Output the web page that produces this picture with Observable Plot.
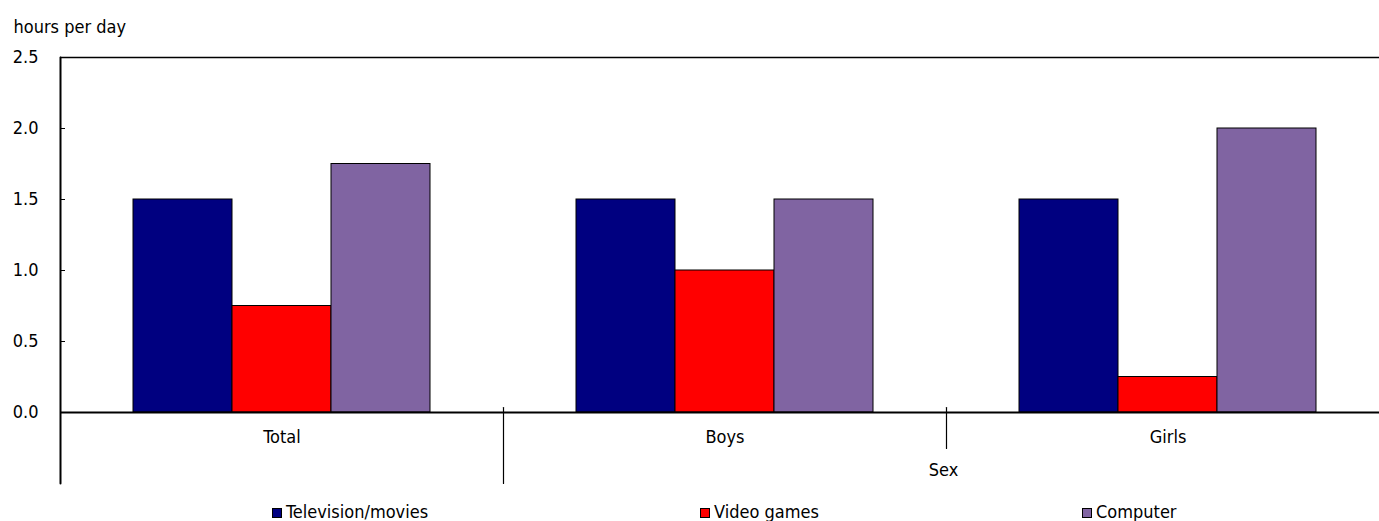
<!DOCTYPE html>
<html>
<head>
<meta charset="utf-8">
<script src="https://cdn.jsdelivr.net/npm/d3@7"></script>
<script src="https://cdn.jsdelivr.net/npm/@observablehq/plot@0.6"></script>
<style>
  html, body { margin: 0; padding: 0; background: #fff; overflow: hidden; }
  #chart {
    position: relative; width: 1379px; height: 521px; overflow: hidden;
    font-family: "Liberation Sans Narrow", "Arial Narrow", "DejaVu Sans Condensed", sans-serif;
    font-size: 18px; color: #000;
  }
  #chart svg { position: absolute; left: 0; top: 0; max-width: none; }
  .legend-item { position: absolute; top: 501px; line-height: 21px; white-space: nowrap; }
  .legend-item .swatch {
    display: inline-block; width: 8px; height: 8px; border: 1px solid #000;
    margin-right: 4px; vertical-align: 0px;
  }
</style>
</head>
<body>
<div id="chart"></div>
<script>
// Time spent on screen activities, by sex
const groups = ["Total", "Boys", "Girls"];
const series = ["Television/movies", "Video games", "Computer"];
const colors = ["#000080", "#ff0000", "#8064a2"];
const television = [1.5, 1.5, 1.5];
const videoGames = [0.75, 1.0, 0.25];
const computer = [1.75, 1.5, 2.0];
const yTicks = [0, 0.5, 1.0, 1.5, 2.0, 2.5];
const yTitle = "hours per day";
const outerLabel = "Sex";

const FONT = '"Liberation Sans Narrow", "Arial Narrow", "DejaVu Sans Condensed", sans-serif';

const seriesValues = [television, videoGames, computer];
const rows = groups.flatMap((g, i) =>
  series.map((s, j) => ({group: g, series: s, value: seriesValues[j][i]}))
);

// a plain vertical stroke, used for the axis line and category dividers
const lineShape = {
  draw(context, l) { context.moveTo(0, 0); context.lineTo(0, -l); }
};

const chart = Plot.plot({
  width: 1389,
  height: 495,
  marginTop: 57,
  marginBottom: 83,
  marginLeft: 60,
  marginRight: 0,
  style: {fontFamily: FONT, fontSize: "18px", color: "#000", background: "transparent",
          overflow: "visible", maxWidth: "none"},
  fx: {domain: groups, padding: 0, label: null},
  x: {domain: series, paddingInner: 0, paddingOuter: 0.737, axis: null},
  y: {domain: [0, 2.5], axis: null},
  color: {domain: series, range: colors},
  marks: [
    Plot.barY(rows, {fx: "group", x: "series", y: "value", fill: "series", stroke: "#000", strokeWidth: 1}),
    Plot.ruleY([2.5], {stroke: "#000", strokeWidth: 1.5}),
    Plot.ruleY([0], {stroke: "#000", strokeWidth: 2}),
    Plot.axisY({ticks: yTicks, tickFormat: d3.format(".1f"), tickSize: -5, tickPadding: 27, label: null, stroke: "#000"}),
    Plot.axisFx({anchor: "bottom", tickSize: 0, tickPadding: 18, label: null}),
    // left axis line, running down through the category area
    Plot.vector([{group: groups[0]}], {fx: "group", frameAnchor: "top-left", rotate: 180, anchor: "start",
      length: 426, shape: lineShape, stroke: "#000", strokeWidth: 2}),
    // divider between Total and the Sex categories
    Plot.vector([{group: groups[1]}], {fx: "group", frameAnchor: "bottom-left", dy: -5, rotate: 180, anchor: "start",
      length: 76, shape: lineShape, stroke: "#000", strokeWidth: 1.2}),
    // divider between Boys and Girls
    Plot.vector([{group: groups[2]}], {fx: "group", frameAnchor: "bottom-left", dy: -5, rotate: 180, anchor: "start",
      length: 41, shape: lineShape, stroke: "#000", strokeWidth: 1.2}),
    // outer category label, centred under Boys and Girls
    Plot.text([{group: groups[2], label: outerLabel}], {fx: "group", text: "label", frameAnchor: "bottom-left",
      lineAnchor: "middle", textAnchor: "middle", dy: 58, dx: -3, fill: "#000"}),
    // y axis title
    Plot.text([{group: groups[0], label: yTitle}], {fx: "group", text: "label", frameAnchor: "top-left",
      lineAnchor: "middle", textAnchor: "start", dx: -47, dy: -30, fill: "#000"})
  ]
});

const root = document.getElementById("chart");
root.appendChild(chart);

// legend
const legendLeft = [272, 700, 1082];
series.forEach((s, i) => {
  const item = document.createElement("div");
  item.className = "legend-item";
  item.style.left = legendLeft[i] + "px";
  const sw = document.createElement("span");
  sw.className = "swatch";
  sw.style.background = colors[i];
  item.appendChild(sw);
  item.appendChild(document.createTextNode(s));
  root.appendChild(item);
});
</script>
</body>
</html>
